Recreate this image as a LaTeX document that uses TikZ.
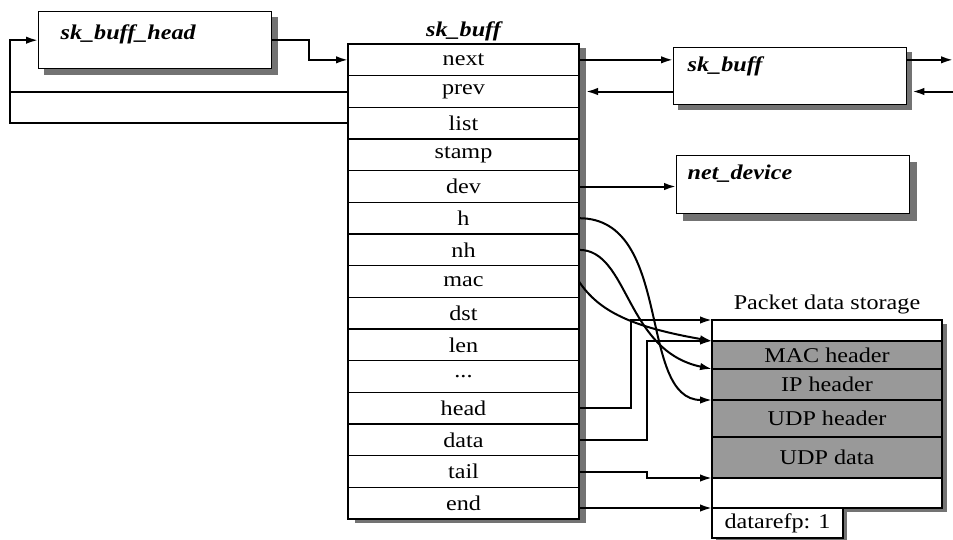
\documentclass[tikz,border=0pt]{standalone}
\usepackage{fontspec}
\setmainfont{Liberation Serif}[FakeStretch=1.15]
\usetikzlibrary{arrows.meta,positioning,backgrounds}

\begin{document}
\begin{tikzpicture}[
    x=1pt, y=-1pt,
    >={Latex[length=12pt,width=7.5pt]},
    node distance=0pt,
    font=\fontsize{21}{25}\selectfont,
    obj/.style={draw, line width=1.4pt, fill=white, font=\fontsize{21}{25}\selectfont\bfseries\itshape, align=left, inner ysep=0pt},
    field/.style={draw, line width=1.2pt, fill=white, minimum width=231pt, minimum height=31.67pt, inner sep=0pt, outer sep=0pt},
    cell/.style={draw, line width=1.2pt, fill=white, minimum width=230pt, inner sep=0pt, outer sep=0pt},
    hdr/.style={cell, fill=black!40},
    shdw/.style={fill=black!55},
    ptr/.style={->, line width=2pt},
    wire/.style={line width=2pt}
]
\useasboundingbox (0,0) rectangle (953,539);

% list head and neighbours
\node[obj, anchor=north west, inner xsep=22pt, text width=189pt, text height=28pt, text depth=29pt] (skbhead) at (38,11) {sk\_buff\_head};
\node[obj, anchor=north west, inner xsep=14pt, text width=205pt, text height=24pt, text depth=33pt] (skbnext) at (673,47) {sk\_buff};
\node[obj, anchor=north west, inner xsep=11pt, text width=211pt, text height=24pt, text depth=34pt] (netdev) at (676,155) {net\_device};

% sk_buff fields
\node[field, anchor=north west] (next) at (348,44) {next};
\node[field, below=of next] (prev) {prev};
\node[field, below=of prev] (list) {list};
\node[field, below=of list] (stamp) {stamp};
\node[field, below=of stamp] (dev) {dev};
\node[field, below=of dev] (h) {h};
\node[field, below=of h] (nh) {nh};
\node[field, below=of nh] (mac) {mac};
\node[field, below=of mac] (dst) {dst};
\node[field, below=of dst] (len) {len};
\node[field, below=of len] (dots) {...};
\node[field, below=of dots] (head) {head};
\node[field, below=of head] (data) {data};
\node[field, below=of data] (tail) {tail};
\node[field, below=of tail] (end) {end};
\node[above=0pt of next, font=\fontsize{21}{25}\selectfont\bfseries\itshape] (skbtitle) {sk\_buff};

% packet data storage
\node[cell, anchor=north west, minimum height=21pt] (pe1) at (712,320) {};
\node[hdr, below=of pe1, minimum height=28pt] (mach) {MAC header};
\node[hdr, below=of mach, minimum height=31pt] (iph) {IP header};
\node[hdr, below=of iph, minimum height=37pt] (udph) {UDP header};
\node[hdr, below=of udph, minimum height=41pt] (udpd) {UDP data};
\node[cell, below=of udpd, minimum height=30pt] (pe2) {};
\node[cell, anchor=north west, minimum width=131pt, minimum height=30pt] (refcnt) at (pe2.south west) {datarefp: 1};
\node[above=2pt of pe1] (pdstitle) {Packet data storage};

% shadows
\begin{scope}[on background layer]
  \fill[shdw] ([shift={(6,6)}]skbhead.north west) rectangle ([shift={(6,6)}]skbhead.south east);
  \fill[shdw] ([shift={(5,5)}]skbnext.north west) rectangle ([shift={(5,5)}]skbnext.south east);
  \fill[shdw] ([shift={(7,7)}]netdev.north west) rectangle ([shift={(7,7)}]netdev.south east);
  \fill[shdw] ([shift={(7,4)}]next.north west) rectangle ([shift={(7,4)}]end.south east);
  \fill[shdw] ([shift={(5,4)}]pe1.north west) rectangle ([shift={(5,4)}]pe2.south east);
  \fill[shdw] ([shift={(4,3)}]refcnt.north west) rectangle ([shift={(4,3)}]refcnt.south east);
\end{scope}

\coordinate (lrail) at (10,0);
\coordinate (rrail) at (953,0);

% list pointers
\draw[ptr] (skbhead.east) -- ++(37,0) |- (next.west);
\draw[wire] (prev.west) -- (prev.west -| lrail);
\draw[ptr] (list.west) -- (list.west -| lrail) |- (skbhead.west);
\draw[ptr] (next.east) -- (next.east -| skbnext.west);
\draw[ptr, shorten >=7pt] (prev.east -| skbnext.west) -- (prev.east);
\draw[ptr] (next.east -| skbnext.east) -- (next.east -| rrail);
\draw[ptr, shorten >=5pt] (prev.east -| rrail) -- (prev.east -| skbnext.east);
\draw[ptr] (dev.east) -- (dev.east -| netdev.west);

% header pointers
\draw[ptr] (h.east) .. controls +(95,0) and +(-75,0) .. (udph.north west);
\draw[ptr] (nh.east) .. controls +(50,0) and +(-87,-18) .. (iph.north west);
\draw[ptr] (mac.east) .. controls +(20,30) and +(-80,-14) .. (mach.north west);

% buffer pointers
\draw[ptr] (head.east) -- ++(52,0) |- (pe1.north west);
\draw[ptr] (data.east) -- ++(68,0) |- (mach.north west);
\draw[ptr] (tail.east) -- ++(68,0) |- (pe2.north west);
\draw[ptr] (end.east |- refcnt.north west) -- (refcnt.north west);
\end{tikzpicture}
\end{document}
